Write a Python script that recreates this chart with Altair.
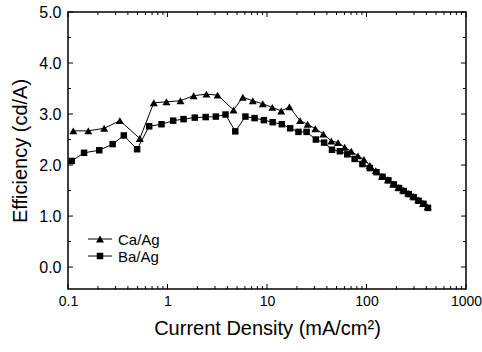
import altair as alt
import pandas as pd

# ---- data ----
ca_x = [0.113, 0.160, 0.231, 0.332, 0.527, 0.728, 0.976, 1.35, 1.83, 2.46, 3.19, 4.61,
        5.72, 7.2, 9.07, 11.3, 13.9, 16.8, 21.5, 25.6, 30.6, 36.8, 44.3, 51.7, 60.3, 70.3,
        82.1, 94.3, 108, 124, 143, 164, 185, 209, 233, 262, 294, 330, 370, 411]
ca_y = [2.67, 2.67, 2.72, 2.87, 2.52, 3.22, 3.24, 3.26, 3.36, 3.39, 3.37, 3.08,
        3.33, 3.26, 3.20, 3.13, 3.06, 3.14, 2.87, 2.80, 2.71, 2.61, 2.47, 2.44, 2.35, 2.27,
        2.18, 2.11, 1.99, 1.89, 1.78, 1.71, 1.63, 1.56, 1.51, 1.45, 1.39, 1.32, 1.25, 1.18]

ba_x = [0.109, 0.145, 0.206, 0.281, 0.364, 0.495, 0.654, 0.87, 1.14, 1.45, 1.88, 2.42,
        3.06, 3.83, 4.8, 6.07, 7.5, 9.3, 11.4, 14.1, 17.1, 20.7, 25, 31, 37.5, 45, 54, 64,
        76, 91, 108, 126, 145, 166, 188, 212, 237, 266, 298, 334, 374, 415]
ba_y = [2.08, 2.24, 2.29, 2.41, 2.58, 2.31, 2.76, 2.80, 2.87, 2.90, 2.93, 2.94,
        2.95, 2.99, 2.66, 2.95, 2.92, 2.88, 2.84, 2.80, 2.72, 2.65, 2.65, 2.50, 2.44, 2.30, 2.27, 2.21,
        2.12, 2.02, 1.94, 1.86, 1.77, 1.70, 1.62, 1.55, 1.49, 1.43, 1.37, 1.30, 1.24, 1.16]

series = ["Ca/Ag", "Ba/Ag"]
shapes = ["triangle-up", "square"]
sizes = [64, 42]

x_major = [0.1, 1, 10, 100, 1000]
x_minor = [m * d for d in [0.1, 1, 10, 100] for m in range(2, 10)]
y_major = [0, 1, 2, 3, 4, 5]
y_minor = [0.5, 1.5, 2.5, 3.5, 4.5]

W, H = 398, 277
FONT = "Arial, Liberation Sans, Helvetica, sans-serif"

df = pd.concat([
    pd.DataFrame({"x": ca_x, "y": ca_y, "s": "Ca/Ag", "o": range(len(ca_x))}),
    pd.DataFrame({"x": ba_x, "y": ba_y, "s": "Ba/Ag", "o": range(len(ba_x))}),
])

xs = alt.Scale(type="log", domain=[0.1, 1000], nice=False)
ys = alt.Scale(domain=[-0.43, 5.0], nice=False, zero=False)

x_axis = alt.Axis(values=x_major, format="~g", ticks=False, domain=False, grid=False,
                  labelFont=FONT, labelFontSize=14, labelColor="black", labelPadding=5,
                  title="Current Density (mA/cm²)", titleFont=FONT, titleFontSize=20,
                  titleFontWeight="normal", titleColor="black", titlePadding=10,
                  labelFlush=False)
y_axis = alt.Axis(values=y_major, format=".1f", ticks=False, domain=False, grid=False,
                  labelFont=FONT, labelFontSize=16, labelColor="black", labelPadding=7,
                  title="Efficiency (cd/A)", titleFont=FONT, titleFontSize=20,
                  titleFontWeight="normal", titleColor="black", titlePadding=8)

X = alt.X("x:Q", scale=xs, axis=x_axis)
Y = alt.Y("y:Q", scale=ys, axis=y_axis)

base = alt.Chart(df)

lines = base.mark_line(color="black", strokeWidth=1).encode(
    x=X, y=Y, detail="s:N", order="o:Q")

points = base.mark_point(filled=True, color="black", opacity=1).encode(
    x=X, y=Y,
    shape=alt.Shape("s:N", scale=alt.Scale(domain=series, range=shapes), legend=None),
    size=alt.Size("s:N", scale=alt.Scale(domain=series, range=sizes), legend=None))


def ticks(vals, axis, side, length):
    if axis == "x":
        d = alt.Chart(pd.DataFrame({"x": vals}))
        enc = dict(x=X)
        if side == "bottom":
            enc.update(y=alt.value(H), y2=alt.value(H - length))
        else:
            enc.update(y=alt.value(0), y2=alt.value(length))
    else:
        d = alt.Chart(pd.DataFrame({"y": vals}))
        enc = dict(y=Y)
        if side == "left":
            enc.update(x=alt.value(0), x2=alt.value(length))
        else:
            enc.update(x=alt.value(W), x2=alt.value(W - length))
    return d.mark_rule(color="black", strokeWidth=1).encode(**enc)


tick_layers = [
    ticks(x_major, "x", "bottom", 5), ticks(x_minor, "x", "bottom", 3),
    ticks(x_major, "x", "top", 5), ticks(x_minor, "x", "top", 3),
    ticks(y_major, "y", "left", 5), ticks(y_minor, "y", "left", 3),
    ticks(y_major, "y", "right", 5), ticks(y_minor, "y", "right", 3),
]

# legend: line segment + marker + label per series
legend_layers = []
leg_df = pd.DataFrame({"s": series})
for i, (name, shp, sz) in enumerate(zip(series, shapes, sizes)):
    row_y = 227 + 17 * i
    sub = alt.Chart(leg_df).transform_filter(alt.datum.s == name)
    legend_layers += [
        sub.mark_rule(color="black", strokeWidth=1).encode(
            x=alt.value(20), x2=alt.value(44), y=alt.value(row_y)),
        sub.mark_point(filled=True, color="black", opacity=1, shape=shp, size=sz).encode(
            x=alt.value(32), y=alt.value(row_y)),
        sub.mark_text(align="left", baseline="middle", font=FONT, fontSize=15,
                      color="black").encode(
            x=alt.value(50), y=alt.value(row_y + 1), text="s:N"),
    ]

chart = alt.layer(lines, points, *tick_layers, *legend_layers).properties(
    width=W, height=H,
    autosize=alt.AutoSizeParams(type="none"),
    padding={"left": 68, "top": 12, "right": 16, "bottom": 63},
    background="white",
).configure_view(stroke="black", strokeWidth=1.5)

chart.save("out.html", embed_options={"renderer": "svg", "actions": False})
